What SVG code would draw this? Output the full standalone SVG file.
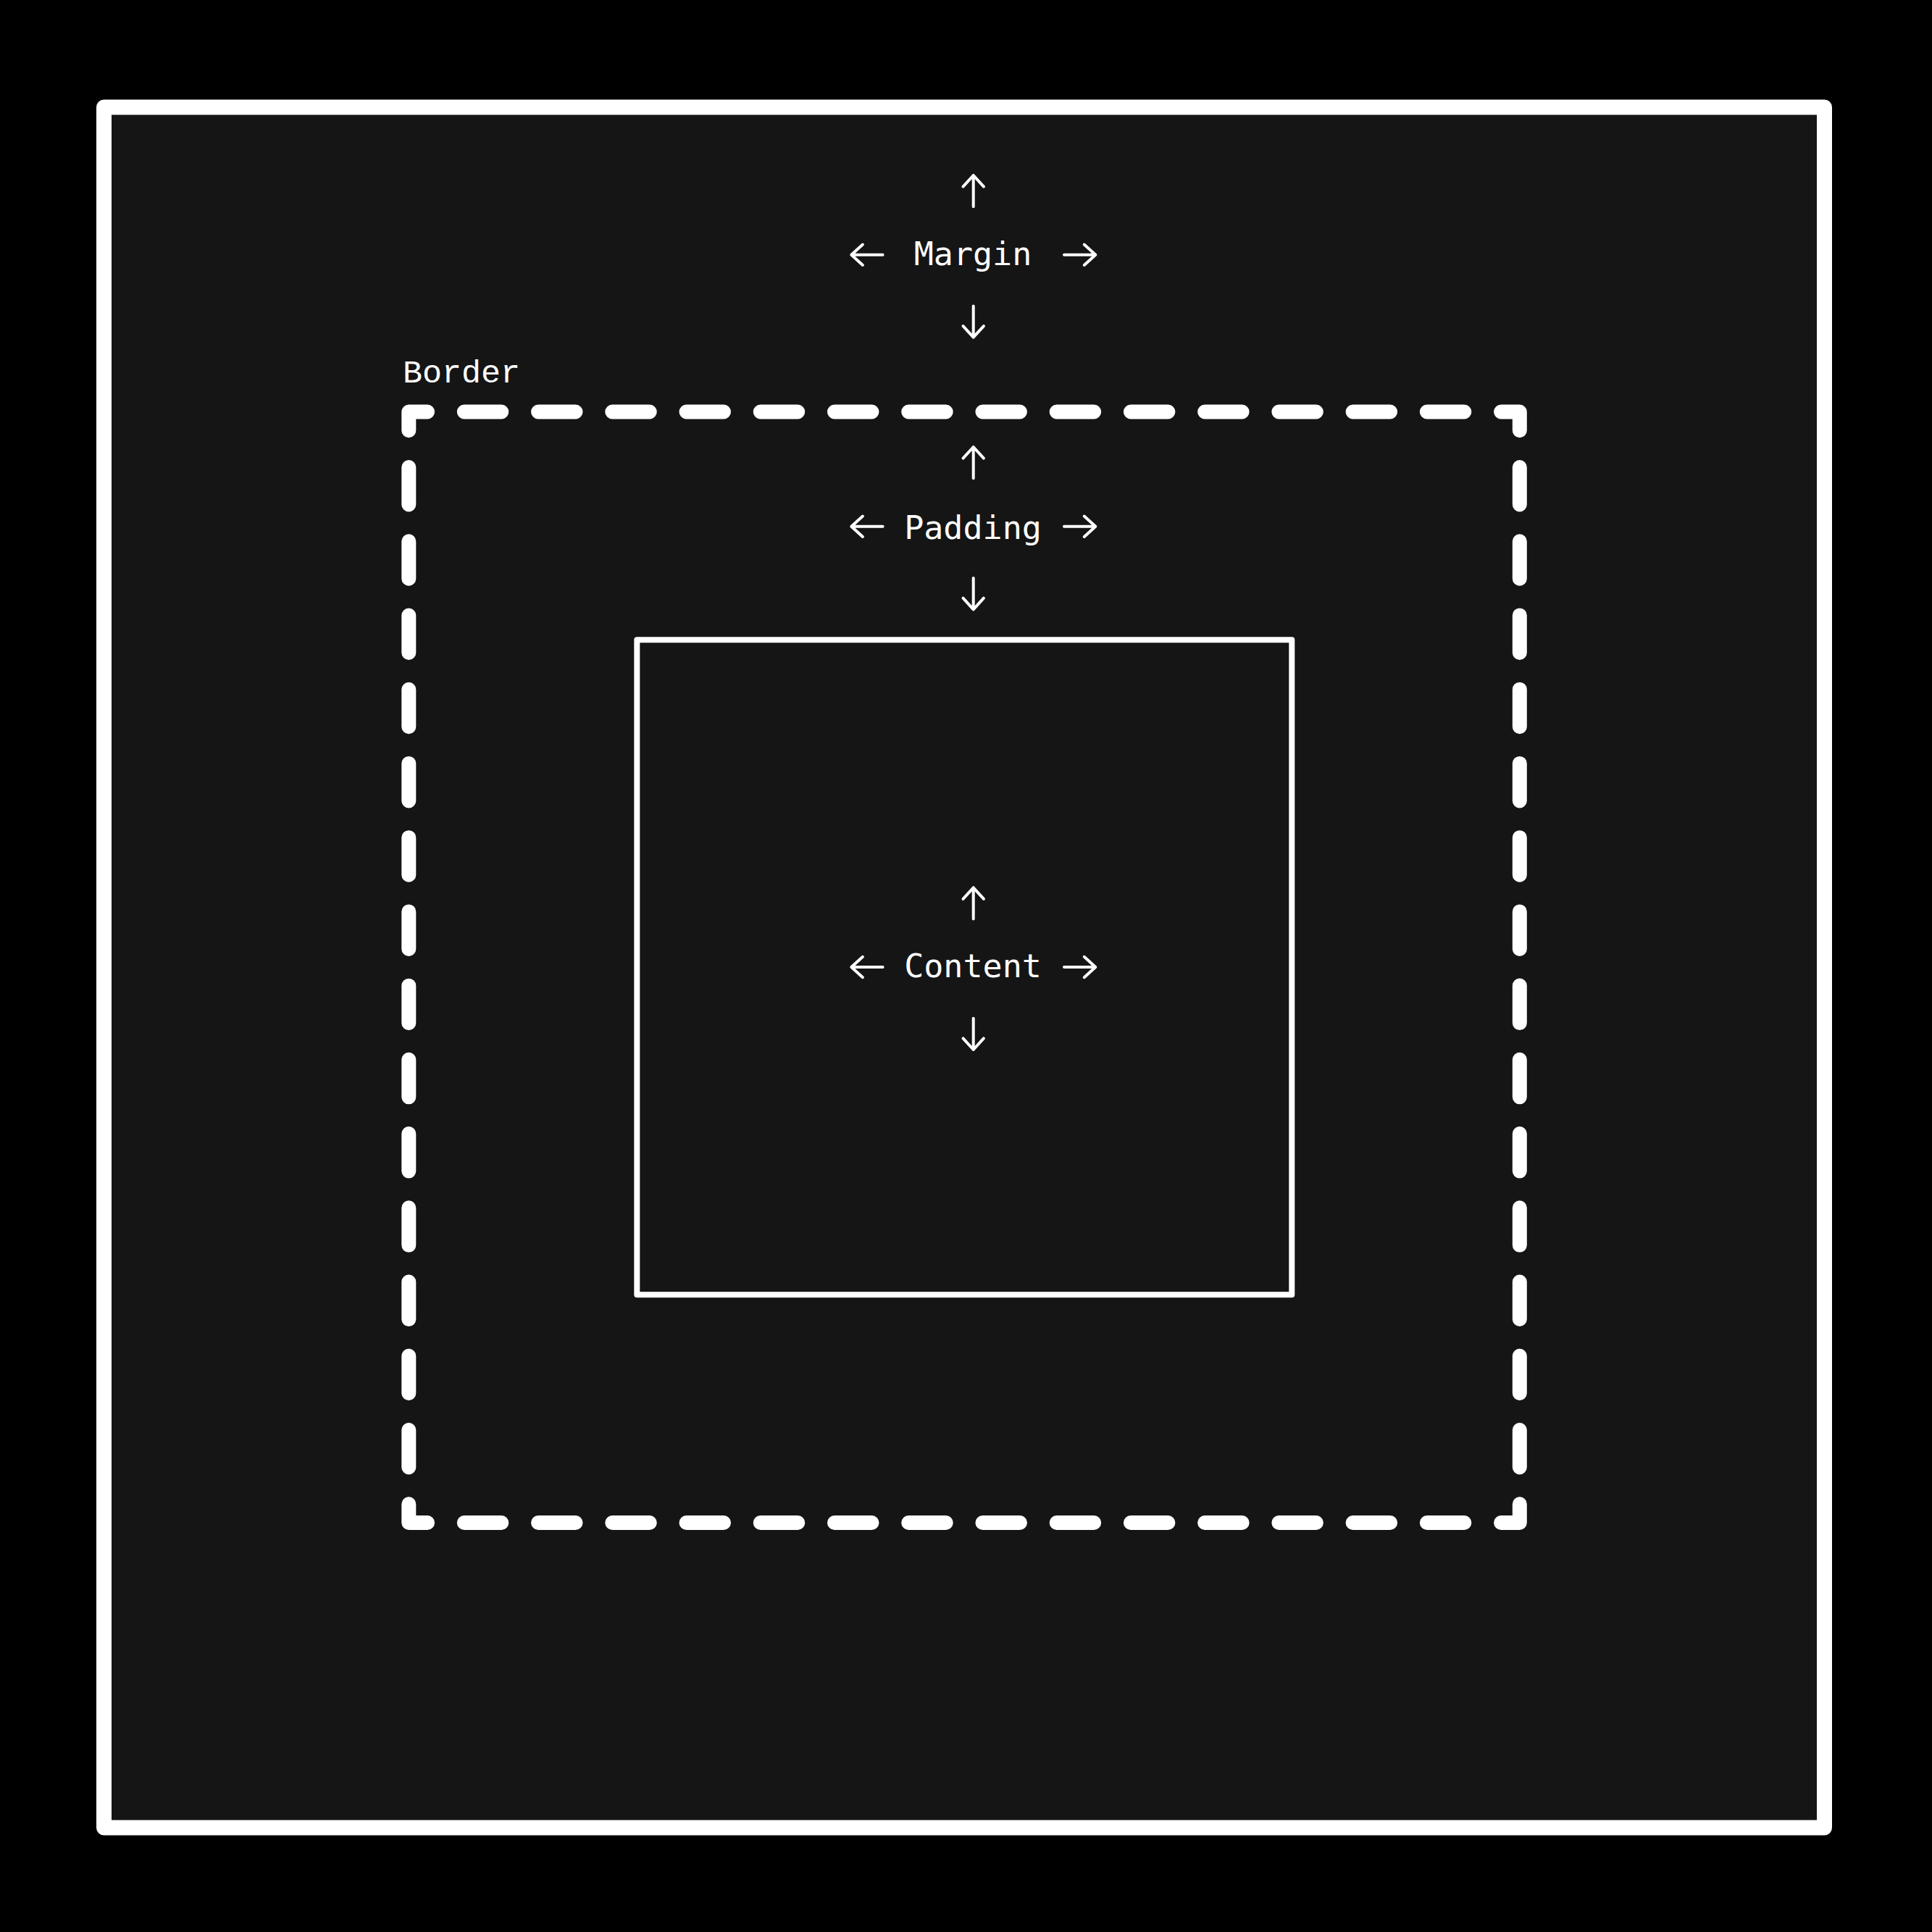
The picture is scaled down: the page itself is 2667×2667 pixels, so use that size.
<svg xmlns="http://www.w3.org/2000/svg" xmlns:xlink="http://www.w3.org/1999/xlink" width="2667" height="2667" viewBox="0 0 2667 2667">
<style>
.arrow{fill:none;stroke:#ffffff;stroke-width:4;stroke-linecap:round;stroke-linejoin:round}
.lbl{fill:#ffffff;font-family:"DejaVu Sans Mono","Liberation Mono",monospace;font-size:45px;text-anchor:middle}
.lblb{fill:#ffffff;font-family:"Liberation Mono","DejaVu Sans Mono",monospace;font-size:45px}
</style>
<defs>
<path id="arr" d="M0,0 V43.3 M-14.2,15.6 L0,0 L14.2,15.6"/>
</defs>
<rect x="0" y="0" width="2667" height="2667" fill="#000000"/>
<g id="margin">
<rect x="143.5" y="148" width="2375" height="2375" fill="#151515" stroke="#ffffff" stroke-width="21" stroke-linejoin="round"/>
<g class="arrow">
<use xlink:href="#arr" transform="translate(1343.7,242)"/>
<use xlink:href="#arr" transform="translate(1343.7,465.7) rotate(180)"/>
<use xlink:href="#arr" transform="translate(1175.3,351.7) rotate(-90)"/>
<use xlink:href="#arr" transform="translate(1512.3,351.7) rotate(90)"/>
</g>
<text class="lbl" x="1343" y="366">Margin</text>
</g>
<g id="border">
<path d="M564.3,568.5 H2097.8 V2102 H564.3 Z" fill="none" stroke="#ffffff" stroke-width="20" stroke-linecap="round" stroke-linejoin="round" stroke-dasharray="51.5 50.733" stroke-dashoffset="25.75"/>
<text class="lblb" x="556" y="528">Border</text>
</g>
<g id="padding">
<g class="arrow">
<use xlink:href="#arr" transform="translate(1343.7,617)"/>
<use xlink:href="#arr" transform="translate(1343.7,841.3) rotate(180)"/>
<use xlink:href="#arr" transform="translate(1175.3,726.7) rotate(-90)"/>
<use xlink:href="#arr" transform="translate(1512.3,726.7) rotate(90)"/>
</g>
<text class="lbl" x="1343" y="744">Padding</text>
</g>
<g id="content">
<rect x="879.3" y="883.3" width="904" height="904" fill="#151515" stroke="#ffffff" stroke-width="8" stroke-linejoin="round"/>
<g class="arrow">
<use xlink:href="#arr" transform="translate(1343.7,1225.3)"/>
<use xlink:href="#arr" transform="translate(1343.7,1449) rotate(180)"/>
<use xlink:href="#arr" transform="translate(1175.3,1335) rotate(-90)"/>
<use xlink:href="#arr" transform="translate(1512.3,1335) rotate(90)"/>
</g>
<text class="lbl" x="1343" y="1349">Content</text>
</g>
<g id="connectors"></g>
</svg>
